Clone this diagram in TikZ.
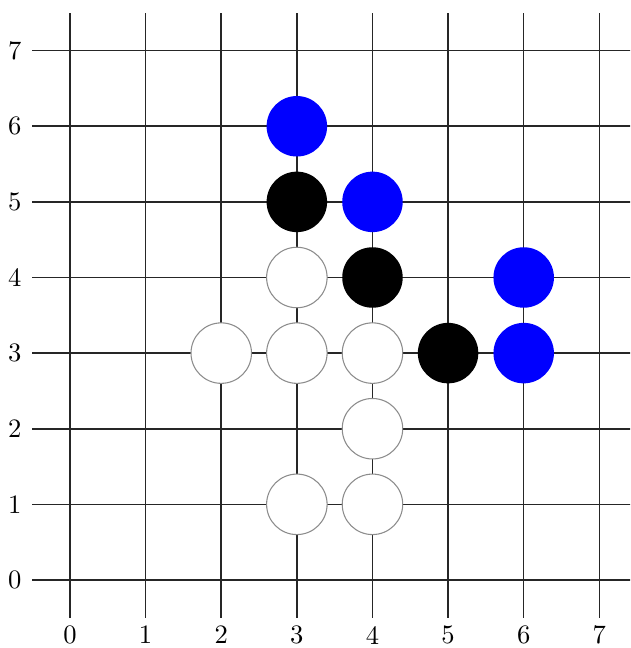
\documentclass[tikz,border=0pt]{standalone}
\usetikzlibrary{positioning}
\tikzset{
  gridline/.style={line width=0.6pt,black!85},
  stone/.style={circle,minimum size=8mm,inner sep=0pt},
  white stone/.style={stone,draw=black!45,line width=0.4pt,fill=white},
  black stone/.style={stone,fill=black},
  blue stone/.style={stone,fill=blue},
  axis num/.style={font=\normalsize,inner sep=0pt},
}
\begin{document}
\begin{tikzpicture}
  \useasboundingbox (-0.926,-0.9) rectangle (7.407,7.67);
  \clip (-0.926,-0.9) rectangle (7.407,7.67);
  % board
  \foreach \i in {0,...,7} {
    \draw[gridline] (\i,-0.5) -- (\i,7.5);
    \draw[gridline] (-0.5,\i) -- (7.5,\i);
    \node[axis num] (xl\i) at (\i,-0.73) {\i};
    \node[axis num] (yl\i) at (-0.73,\i) {\i};
  }
  % stones
  \foreach \x/\y in {3/4,2/3,3/3,4/3,4/2,3/1,4/1}
    \node[white stone] (w\x\y) at (\x,\y) {};
  \foreach \x/\y in {3/5,4/4,5/3}
    \node[black stone] (b\x\y) at (\x,\y) {};
  \foreach \x/\y in {3/6,4/5,6/4,6/3}
    \node[blue stone] (u\x\y) at (\x,\y) {};
\end{tikzpicture}
\end{document}
